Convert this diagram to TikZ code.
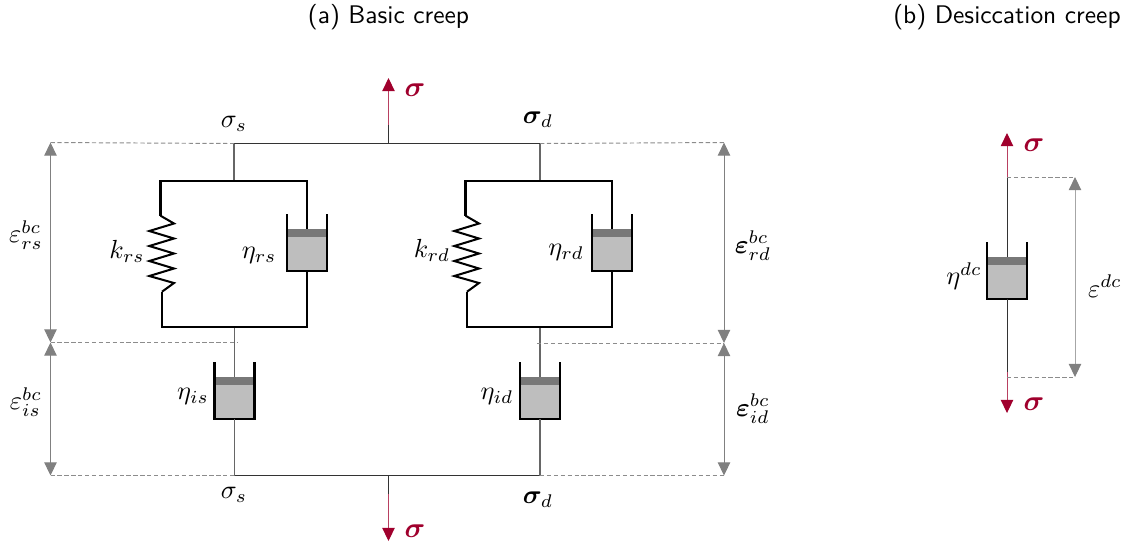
\documentclass[tikz,border=0pt]{standalone}
\usepackage{amsmath,bm}
\usetikzlibrary{arrows.meta}
\definecolor{crimson}{RGB}{160,0,45}
\definecolor{dimgrey}{RGB}{128,128,128}
\definecolor{fluid}{RGB}{190,190,190}
\definecolor{band}{RGB}{120,120,120}
\tikzset{
  thinwire/.style={draw=black!80,line width=0.42pt},
  wire/.style={draw=black,line width=0.85pt,line join=miter},
  stem/.style={draw=black!60,line width=0.5pt},
  redforce/.style={draw=crimson!75,line width=0.42pt,-{Triangle[length=5.5pt,width=5.2pt,color=crimson,fill=crimson]}},
  dimline/.style={draw=dimgrey,line width=0.42pt,{Triangle[length=5.5pt,width=5.2pt,color=dimgrey,fill=dimgrey]}-{Triangle[length=5.5pt,width=5.2pt,color=dimgrey,fill=dimgrey]}},
  guide/.style={draw=black!45,line width=0.4pt,dash pattern=on 1.8pt off 1.1pt},
  lbl/.style={inner sep=0pt,outer sep=0pt,scale=1.1},
  titlelbl/.style={inner sep=0pt,outer sep=0pt,scale=1.07},
  redlbl/.style={inner sep=0pt,outer sep=0pt,scale=1.2,text=crimson},
}
% dashpot: #1 name, #2 centre x, #3 wall top y
\newcommand{\dashpotbox}[3]{%
  \fill[fluid] (#2-20,#3+23) rectangle (#2+20,#3+57);
  \fill[band] (#2-20,#3+15) rectangle (#2+20,#3+23);
  \coordinate (#1top) at (#2,#3+15);
  \coordinate (#1bot) at (#2,#3+57);
  \draw[wire] (#2-20,#3) -- (#2-20,#3+57) -- (#2+20,#3+57) -- (#2+20,#3);
}
% spring: #1 name, #2 x offset
\newcommand{\springzig}[2]{%
  \coordinate (#1top) at (#2+160.5,215.7);
  \coordinate (#1bot) at (#2+162,291.7);
  \draw[wire] (#1top) -- (#2+174,223.5) -- (#2+149.3,231) -- (#2+174,238.5) -- (#2+149.3,246) -- (#2+174,253.5) -- (#2+149.3,261) -- (#2+174,268.5) -- (#2+149.3,276) -- (#2+174,283) -- (#1bot);
}
\begin{document}
\begin{tikzpicture}[x=0.42pt,y=-0.42pt]
\useasboundingbox (0,0) rectangle (1125,544);
% titles
\node[titlelbl] (titleA) at (388.5,17) {\sffamily (a) Basic creep};
\node[titlelbl] (titleB) at (1007,17) {\sffamily (b) Desiccation creep};
% anchors
\coordinate (topS) at (234,143.5);
\coordinate (topM) at (388.5,143.5);
\coordinate (topD) at (540,143.5);
\coordinate (botS) at (234.5,475.5);
\coordinate (botM) at (388.5,475.5);
\coordinate (botD) at (540,475.5);
\coordinate (upTip) at (388.5,78);
\coordinate (upRed) at (388.5,125);
\coordinate (dnTip) at (388.5,541);
\coordinate (dnRed) at (388.5,494);
% force arrows
\draw[redforce] (upRed) -- (upTip);
\draw[redforce] (dnRed) -- (dnTip);
\draw[thinwire] (topM) -- (upRed);
\draw[thinwire] (botM) -- (dnRed);
% rails
\draw[thinwire] (topS) -- (topD);
\draw[thinwire] (botS) -- (botD);
% left branch
\coordinate (sTop) at (234,180.5);
\coordinate (sBot) at (234.5,327);
\draw[stem] (topS) -- (sTop);
\draw[stem] (sBot) -- (234.5,378);
\springzig{springS}{0}
\dashpotbox{dpRS}{307}{214}
\dashpotbox{dpIS}{234.5}{362}
\draw[wire] (springStop) -- (160.5,180.5) -- (307,180.5) -- (dpRStop);
\draw[wire] (springSbot) -- (162,327) -- (307,327) -- (dpRSbot);
\draw[stem] (dpISbot) -- (botS);
% right branch
\coordinate (dTop) at (540,180.5);
\coordinate (dBot) at (540,327);
\draw[stem] (topD) -- (dTop);
\draw[stem] (dBot) -- (540,378);
\springzig{springD}{305}
\dashpotbox{dpRD}{612}{214}
\dashpotbox{dpID}{540}{362}
\draw[wire] (springDtop) -- (465.5,180.5) -- (612,180.5) -- (dpRDtop);
\draw[wire] (springDbot) -- (467,327) -- (612,327) -- (dpRDbot);
\draw[stem] (dpIDbot) -- (botD);
% dimension guides left
\coordinate (dl1) at (50.5,142.5);
\coordinate (dl2) at (50.5,342.5);
\coordinate (dl3) at (50.5,475.5);
\draw[guide] (dl1) -- (topS);
\draw[guide] (dl2) -- (238,342.5);
\draw[guide] (dl3) -- (botS);
\draw[dimline] (dl1) -- (dl2);
\draw[dimline] (dl2) -- (dl3);
% dimension guides right
\coordinate (dr1) at (724,142.5);
\coordinate (dr2) at (724,343);
\coordinate (dr3) at (724,475.5);
\draw[guide] (topD) -- (dr1);
\draw[guide] (537,343) -- (dr2);
\draw[guide] (botD) -- (dr3);
\draw[dimline] (dr1) -- (dr2);
\draw[dimline] (dr2) -- (dr3);
% panel b
\coordinate (bUpTip) at (1007,133);
\coordinate (bUpRed) at (1007,177);
\coordinate (bDnRed) at (1007,372);
\coordinate (bDnTip) at (1007,413);
\coordinate (bg1) at (1075,177);
\coordinate (bg2) at (1075,377);
\dashpotbox{dpB}{1007}{242}
\draw[redforce] (bUpRed) -- (bUpTip);
\draw[redforce] (bDnRed) -- (bDnTip);
\draw[thinwire] (bUpRed) -- (dpBtop);
\draw[thinwire] (dpBbot) -- (bDnRed);
\draw[guide] (bUpRed) -- (bg1);
\draw[guide] (1007,377) -- (bg2);
\draw[dimline,draw=dimgrey!70] (bg1) -- (bg2);
% labels
\node[redlbl] (sigUp) at (415,90) {$\bm{\sigma}$};
\node[redlbl] (sigDn) at (415,531) {$\bm{\sigma}$};
\node[redlbl] (sigBUp) at (1034,145) {$\bm{\sigma}$};
\node[redlbl] (sigBDn) at (1034,404) {$\bm{\sigma}$};
\node[lbl] (lss) at (234,124) {$\sigma_s$};
\node[lbl] (lsd) at (538,120) {$\bm{\sigma}_d$};
\node[lbl] (lbs) at (234,495) {$\sigma_s$};
\node[lbl] (lbd) at (538,500) {$\bm{\sigma}_d$};
\node[lbl] (lkrs) at (127,251) {$k_{rs}$};
\node[lbl] (lkrd) at (432,250) {$k_{rd}$};
\node[lbl] (lers) at (259,255) {$\eta_{rs}$};
\node[lbl] (lerd) at (566,252) {$\eta_{rd}$};
\node[lbl] (leis) at (193,396) {$\eta_{is}$};
\node[lbl] (leid) at (497,396) {$\eta_{id}$};
\node[lbl] (lebd) at (964,276) {$\eta^{dc}$};
\node[lbl] (lrs) at (26,235) {$\varepsilon_{rs}^{bc}$};
\node[lbl] (lis) at (26,402) {$\varepsilon_{is}^{bc}$};
\node[lbl] (lrd) at (753,246) {$\bm{\varepsilon}_{rd}^{bc}$};
\node[lbl] (lid) at (753,409) {$\bm{\varepsilon}_{id}^{bc}$};
\node[lbl] (ldc) at (1105,286) {$\varepsilon^{dc}$};
\end{tikzpicture}
\end{document}
